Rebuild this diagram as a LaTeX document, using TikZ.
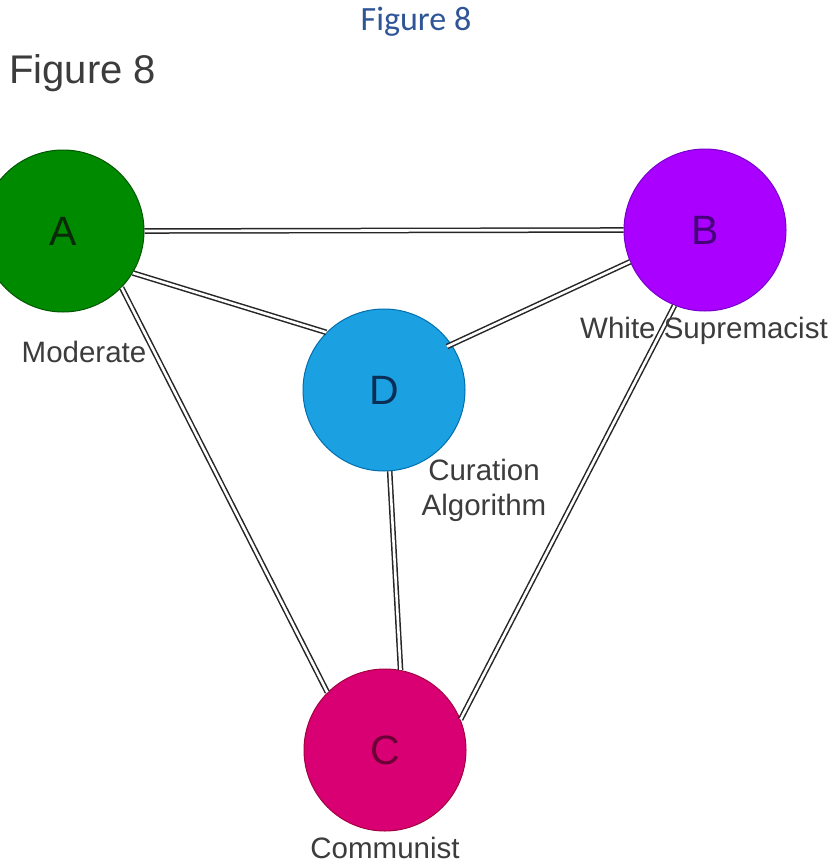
\documentclass[tikz,border=0pt]{standalone}
\usepackage{fontspec}
\setmainfont{Liberation Sans}
\newfontfamily\titlefont{Carlito}
\usetikzlibrary{calc}
\definecolor{agreen}{HTML}{008A00}
\definecolor{agreenD}{HTML}{005700}
\definecolor{agreenT}{HTML}{0A2A0A}
\definecolor{bviolet}{HTML}{AA00FF}
\definecolor{bvioletD}{HTML}{7700CC}
\definecolor{bvioletT}{HTML}{45007A}
\definecolor{dblue}{HTML}{1BA1E2}
\definecolor{dblueD}{HTML}{006EAF}
\definecolor{dblueT}{HTML}{0A2E55}
\definecolor{cmag}{HTML}{D80073}
\definecolor{cmagD}{HTML}{A50040}
\definecolor{cmagT}{HTML}{6A0035}
\definecolor{labgray}{HTML}{3C3C3C}
\definecolor{titleblue}{HTML}{2F5597}
\tikzset{
  party/.style={circle, minimum size=162pt, inner sep=0pt, line width=1pt,
    font=\fontsize{41}{43}\selectfont},
  link/.style={double, draw=black!85, double=white, line width=1.5pt, double distance=2.6pt},
  lab/.style={text=labgray, font=\fontsize{29.5}{35}\selectfont, inner sep=0pt, align=center}
}
\begin{document}
\begin{tikzpicture}[x=1pt,y=-1pt]
\useasboundingbox (0,0) rectangle (835,864);
\clip (0,0) rectangle (835,864);
\fill[white] (0,0) rectangle (835,864);
\node[text=titleblue, font=\titlefont\fontsize{34}{36}\selectfont, inner sep=0pt] (title) at (416,22) {Figure 8};
\node[text=labgray, font=\fontsize{40}{42}\selectfont, inner sep=0pt, anchor=west] (fig) at (9,73) {Figure 8};

\node[party, fill=agreen, draw=agreenD, text=agreenT] (A) at (63,231) {A};
\node[party, fill=bviolet, draw=bvioletD, text=bvioletT] (B) at (705,230) {B};
\node[party, fill=dblue, draw=dblueD, text=dblueT] (D) at (384,390) {D};
\node[party, fill=cmag, draw=cmagD, text=cmagT] (C) at (385,750) {C};

\draw[link] (A.east) -- (B.west);
\draw[link] (A.-31) -- (D.135);
\draw[link] (A.-44) -- (C.135);
\draw[link, shorten >=-5pt] (B.203) -- (D.34);
\draw[link] (B.248) -- (C.22);
\draw[link] (D.274) -- (C.79);

\node[lab] (lA) at (84,352) {Moderate};
\node[lab] (lB) at (704,331) {White Supremacist};
\node[lab] (lD) at (484,490) {Curation\\Algorithm};
\node[lab] (lC) at (385,848) {Communist};
\end{tikzpicture}
\end{document}
